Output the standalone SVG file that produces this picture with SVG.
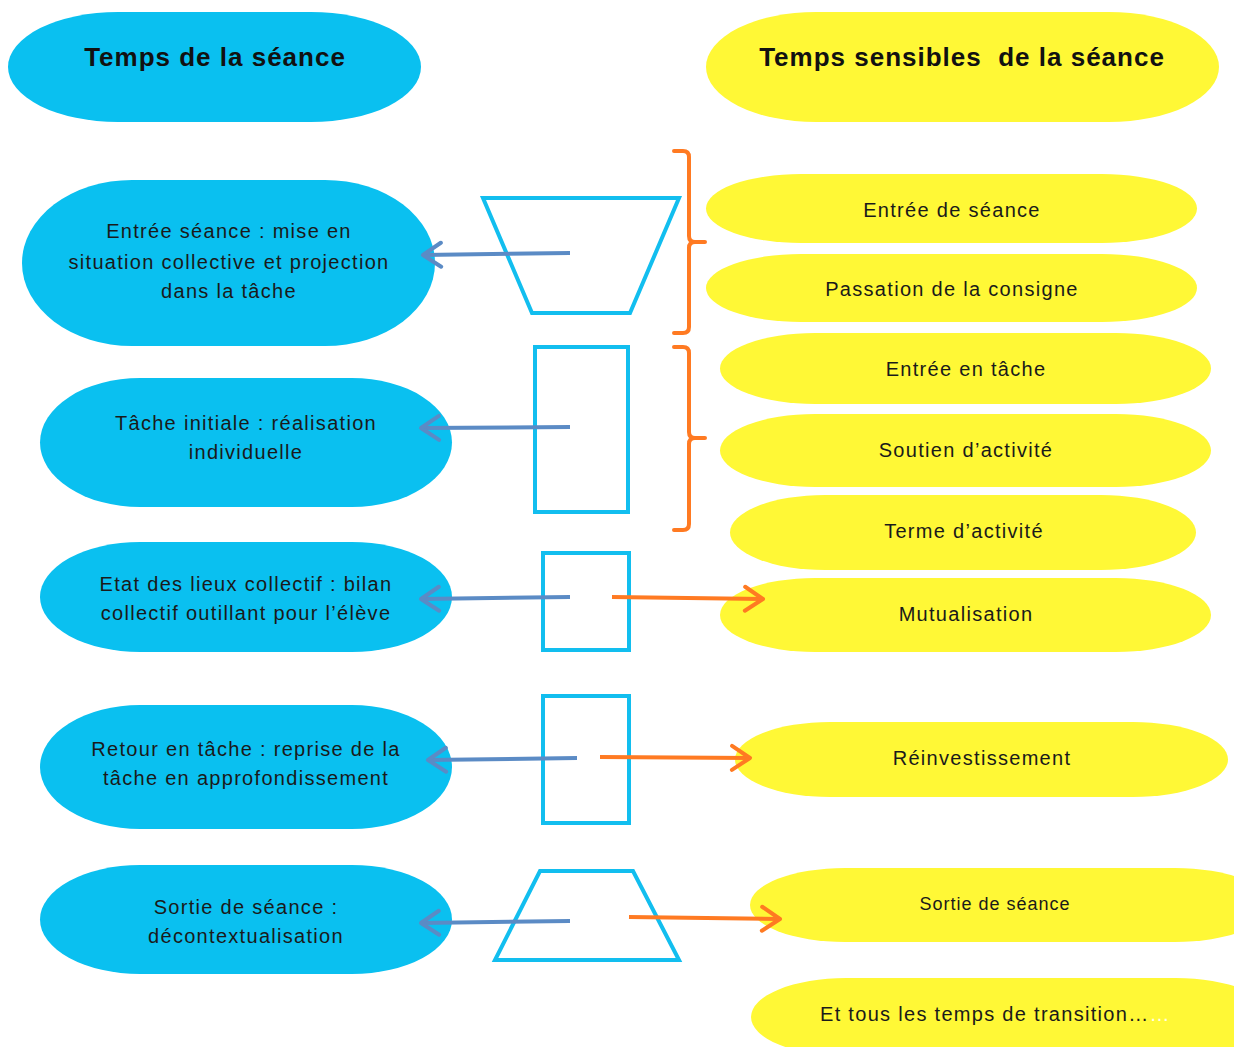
<svg xmlns="http://www.w3.org/2000/svg" width="1234" height="1047" viewBox="0 0 1234 1047">
<style>
.blue{fill:#0AC0F0}
.yel{fill:#FFF836}
.title{font-family:"Liberation Sans",Arial,sans-serif;font-weight:bold;font-size:26px;letter-spacing:1px;fill:#111;text-anchor:middle}
.t{font-family:"Liberation Sans",Arial,sans-serif;font-size:20px;letter-spacing:1.3px;fill:#1a1a1a;text-anchor:middle}
.ts{font-family:"Liberation Sans",Arial,sans-serif;font-size:18px;letter-spacing:1px;fill:#1a1a1a;text-anchor:middle}
.frame{fill:none;stroke:#12BEEF;stroke-width:4}
.ab{fill:none;stroke:#5B8BC5;stroke-width:4;marker-end:url(#mb)}
.ao{fill:none;stroke:#FF7A22;stroke-width:4;marker-end:url(#mo)}
.br{fill:none;stroke:#FF7A22;stroke-width:4;stroke-linecap:round;stroke-linejoin:round}
</style>
<defs>
<marker id="mb" markerUnits="userSpaceOnUse" markerWidth="30" markerHeight="30" refX="24" refY="15" orient="auto" overflow="visible">
<path d="M6 3 L24 15 L6 27" fill="none" stroke="#5B8BC5" stroke-width="4" stroke-linecap="round" stroke-linejoin="round"/>
</marker>
<marker id="mo" markerUnits="userSpaceOnUse" markerWidth="30" markerHeight="30" refX="24" refY="15" orient="auto" overflow="visible">
<path d="M6 3 L24 15 L6 27" fill="none" stroke="#FF7A22" stroke-width="4" stroke-linecap="round" stroke-linejoin="round"/>
</marker>
</defs>
<rect width="1234" height="1047" fill="#fff"/>

<g id="title-left">
<rect class="blue" x="8" y="12" width="413" height="110" rx="110" ry="55"/>
<text class="title" x="215" y="66">Temps de la séance</text>
</g>
<g id="title-right">
<rect class="yel" x="706" y="12" width="513" height="110" rx="110" ry="55"/>
<text class="title" x="962" y="66">Temps sensibles&#160; de la séance</text>
</g>

<g id="b1">
<rect class="blue" x="22" y="180" width="413" height="166" rx="110" ry="83"/>
<text class="t" x="229" y="238">Entrée séance : mise en</text>
<text class="t" x="229" y="269">situation collective et projection</text>
<text class="t" x="229" y="298">dans la tâche</text>
</g>
<g id="b2">
<rect class="blue" x="40" y="378" width="412" height="129" rx="100" ry="64.5"/>
<text class="t" x="246" y="430">Tâche initiale : réalisation</text>
<text class="t" x="246" y="459">individuelle</text>
</g>
<g id="b3">
<rect class="blue" x="40" y="542" width="412" height="110" rx="100" ry="55"/>
<text class="t" x="246" y="591">Etat des lieux collectif : bilan</text>
<text class="t" x="246" y="620">collectif outillant pour l’élève</text>
</g>
<g id="b4">
<rect class="blue" x="40" y="705" width="412" height="124" rx="100" ry="62"/>
<text class="t" x="246" y="756">Retour en tâche : reprise de la</text>
<text class="t" x="246" y="785">tâche en approfondissement</text>
</g>
<g id="b5">
<rect class="blue" x="40" y="865" width="412" height="109" rx="100" ry="54.5"/>
<text class="t" x="246" y="914">Sortie de séance :</text>
<text class="t" x="246" y="943">décontextualisation</text>
</g>

<g id="y1">
<rect class="yel" x="706" y="174" width="491" height="69" rx="95" ry="34.5"/>
<text class="t" x="952" y="217">Entrée de séance</text>
</g>
<g id="y2">
<rect class="yel" x="706" y="254" width="491" height="68" rx="95" ry="34"/>
<text class="t" x="952" y="296">Passation de la consigne</text>
</g>
<g id="y3">
<rect class="yel" x="720" y="333" width="491" height="71" rx="95" ry="35.5"/>
<text class="t" x="966" y="376">Entrée en tâche</text>
</g>
<g id="y4">
<rect class="yel" x="720" y="414" width="491" height="73" rx="95" ry="36.5"/>
<text class="t" x="966" y="457">Soutien d’activité</text>
</g>
<g id="y5">
<rect class="yel" x="730" y="495" width="466" height="75" rx="95" ry="37.5"/>
<text class="t" x="964" y="538">Terme d’activité</text>
</g>
<g id="y6">
<rect class="yel" x="720" y="578" width="491" height="74" rx="95" ry="37"/>
<text class="t" x="966" y="621">Mutualisation</text>
</g>
<g id="y7">
<rect class="yel" x="735" y="722" width="493" height="75" rx="95" ry="37.5"/>
<text class="t" x="982" y="765">Réinvestissement</text>
</g>
<g id="y8">
<rect class="yel" x="750" y="868" width="520" height="74" rx="95" ry="37"/>
<text class="ts" x="995" y="910">Sortie de séance</text>
</g>
<g id="y9">
<rect class="yel" x="751" y="978" width="520" height="78" rx="95" ry="39"/>
<text class="t" x="820" y="1021" style="text-anchor:start">Et tous les temps de transition…<tspan fill="#FFFDE8">…</tspan></text>
</g>

<g id="frames">
<polygon class="frame" points="483,198 679,198 630,313 532,313"/>
<rect class="frame" x="535" y="347" width="93" height="165"/>
<rect class="frame" x="543" y="553" width="86" height="97"/>
<rect class="frame" x="543" y="696" width="86" height="127"/>
<polygon class="frame" points="540,871 633,871 679,960 495,960"/>
</g>

<g id="brackets">
<path class="br" d="M674 151 L683 151 Q689 151 689 157 L689 236 Q689 242 695 242 L705 242 M695 242 Q689 242 689 248 L689 327 Q689 333 683 333 L674 333"/>
<path class="br" d="M674 347 L683 347 Q689 347 689 353 L689 432 Q689 438 695 438 L705 438 M695 438 Q689 438 689 444 L689 524 Q689 530 683 530 L674 530"/>
</g>

<g id="connectors">
<path class="ab" d="M570 253 L423 255"/>
<path class="ab" d="M570 427 L421 428"/>
<path class="ab" d="M570 597 L421 599"/>
<path class="ab" d="M577 758 L428 760"/>
<path class="ab" d="M570 921 L421 923"/>
<path class="ao" d="M612 597 L763 599"/>
<path class="ao" d="M600 757 L750 758"/>
<path class="ao" d="M629 917 L780 919"/>
</g>
</svg>
